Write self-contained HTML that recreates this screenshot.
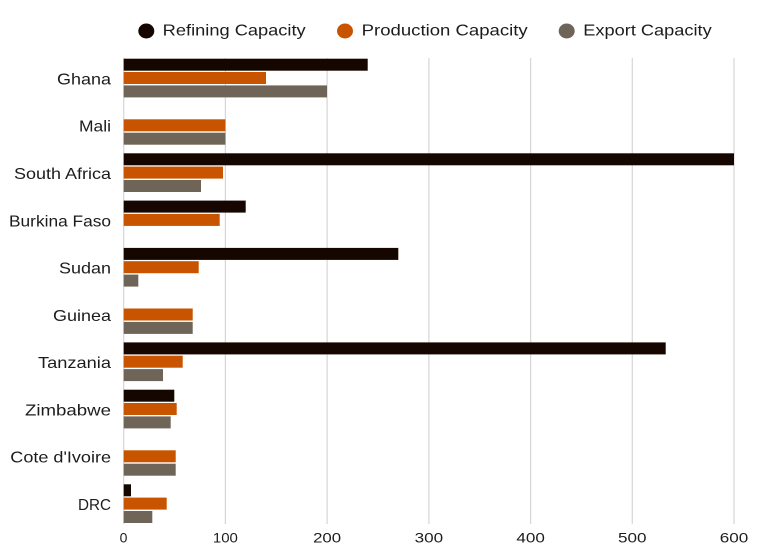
<!DOCTYPE html>
<html><head><meta charset="utf-8"><style>
html,body{margin:0;padding:0;background:#fff;}
svg{display:block;}
text{font-family:"Liberation Sans",sans-serif;fill:#1c1c1c;}
</style></head><body>
<svg width="773" height="559" viewBox="0 0 773 559" xmlns="http://www.w3.org/2000/svg">
<rect width="773" height="559" fill="#fff"/>
<!-- legend -->
<ellipse cx="146.3" cy="31" rx="8" ry="7.5" fill="#150700"/>
<text x="162.7" y="35.5" font-size="16" textLength="143" lengthAdjust="spacingAndGlyphs">Refining Capacity</text>
<ellipse cx="345" cy="31" rx="8" ry="7.5" fill="#c85400"/>
<text x="361.7" y="35.5" font-size="16" textLength="166" lengthAdjust="spacingAndGlyphs">Production Capacity</text>
<ellipse cx="566.7" cy="31" rx="8" ry="7.5" fill="#6e6558"/>
<text x="583.3" y="35.5" font-size="16" textLength="128.4" lengthAdjust="spacingAndGlyphs">Export Capacity</text>
<!-- gridlines -->
<g stroke="#d6d6d6" stroke-width="1.2">
<line x1="123.7" y1="58" x2="123.7" y2="524"/>
<line x1="225.4" y1="58" x2="225.4" y2="524"/>
<line x1="327.1" y1="58" x2="327.1" y2="524"/>
<line x1="428.9" y1="58" x2="428.9" y2="524"/>
<line x1="530.6" y1="58" x2="530.6" y2="524"/>
<line x1="632.3" y1="58" x2="632.3" y2="524"/>
<line x1="734" y1="58" x2="734" y2="524"/>
</g>
<!-- bars -->
<g>
<!-- Ghana y0=58.7 -->
<rect x="123.7" y="58.7" width="244" height="12" fill="#150700"/>
<rect x="123.7" y="72" width="142.3" height="12" fill="#c85400"/>
<rect x="123.7" y="85.4" width="203.3" height="12" fill="#6e6558"/>
<!-- Mali y0=106 -->
<rect x="123.7" y="119.3" width="101.7" height="12" fill="#c85400"/>
<rect x="123.7" y="132.7" width="101.7" height="12" fill="#6e6558"/>
<!-- South Africa y0=153.3 -->
<rect x="123.7" y="153.3" width="610.3" height="12" fill="#150700"/>
<rect x="123.7" y="166.6" width="99.3" height="12" fill="#c85400"/>
<rect x="123.7" y="180" width="77.3" height="12" fill="#6e6558"/>
<!-- Burkina y0=200.6 -->
<rect x="123.7" y="200.6" width="122" height="12" fill="#150700"/>
<rect x="123.7" y="213.9" width="96" height="12" fill="#c85400"/>
<!-- Sudan y0=247.9 -->
<rect x="123.7" y="247.9" width="274.6" height="12" fill="#150700"/>
<rect x="123.7" y="261.2" width="75" height="12" fill="#c85400"/>
<rect x="123.7" y="274.6" width="14.6" height="12" fill="#6e6558"/>
<!-- Guinea y0=295.2 -->
<rect x="123.7" y="308.5" width="69" height="12" fill="#c85400"/>
<rect x="123.7" y="321.9" width="69" height="12" fill="#6e6558"/>
<!-- Tanzania y0=342.4 -->
<rect x="123.7" y="342.4" width="542" height="12" fill="#150700"/>
<rect x="123.7" y="355.7" width="59" height="12" fill="#c85400"/>
<rect x="123.7" y="369.1" width="39.3" height="12" fill="#6e6558"/>
<!-- Zimbabwe y0=389.7 -->
<rect x="123.7" y="389.7" width="50.6" height="12" fill="#150700"/>
<rect x="123.7" y="403" width="53" height="12" fill="#c85400"/>
<rect x="123.7" y="416.4" width="47" height="12" fill="#6e6558"/>
<!-- Cote d'Ivoire y0=437 -->
<rect x="123.7" y="450.3" width="52" height="12" fill="#c85400"/>
<rect x="123.7" y="463.7" width="52" height="12" fill="#6e6558"/>
<!-- DRC y0=484.3 -->
<rect x="123.7" y="484.3" width="7.3" height="12" fill="#150700"/>
<rect x="123.7" y="497.6" width="43" height="12" fill="#c85400"/>
<rect x="123.7" y="511" width="28.6" height="12" fill="#6e6558"/>
</g>
<!-- category labels -->
<g font-size="16" text-anchor="end">
<text x="111" y="84.4" textLength="54" lengthAdjust="spacingAndGlyphs">Ghana</text>
<text x="111" y="131.7" textLength="32" lengthAdjust="spacingAndGlyphs">Mali</text>
<text x="111" y="179" textLength="97" lengthAdjust="spacingAndGlyphs">South Africa</text>
<text x="111" y="226.3" textLength="102" lengthAdjust="spacingAndGlyphs">Burkina Faso</text>
<text x="111" y="273.5" textLength="52" lengthAdjust="spacingAndGlyphs">Sudan</text>
<text x="111" y="320.8" textLength="58" lengthAdjust="spacingAndGlyphs">Guinea</text>
<text x="111" y="368.1" textLength="73" lengthAdjust="spacingAndGlyphs">Tanzania</text>
<text x="111" y="415.4" textLength="86" lengthAdjust="spacingAndGlyphs">Zimbabwe</text>
<text x="111" y="462.7" textLength="100.7" lengthAdjust="spacingAndGlyphs">Cote d'Ivoire</text>
<text x="111" y="510" textLength="33" lengthAdjust="spacingAndGlyphs">DRC</text>
</g>
<!-- tick labels -->
<g font-size="14" text-anchor="middle">
<text x="123.5" y="542.5">0</text>
<text x="225.4" y="542.5" textLength="25" lengthAdjust="spacingAndGlyphs">100</text>
<text x="327.1" y="542.5" textLength="28" lengthAdjust="spacingAndGlyphs">200</text>
<text x="428.9" y="542.5" textLength="28.5" lengthAdjust="spacingAndGlyphs">300</text>
<text x="530.6" y="542.5" textLength="28.5" lengthAdjust="spacingAndGlyphs">400</text>
<text x="632.3" y="542.5" textLength="28.5" lengthAdjust="spacingAndGlyphs">500</text>
<text x="734" y="542.5" textLength="28.5" lengthAdjust="spacingAndGlyphs">600</text>
</g>
</svg>
</body></html>
